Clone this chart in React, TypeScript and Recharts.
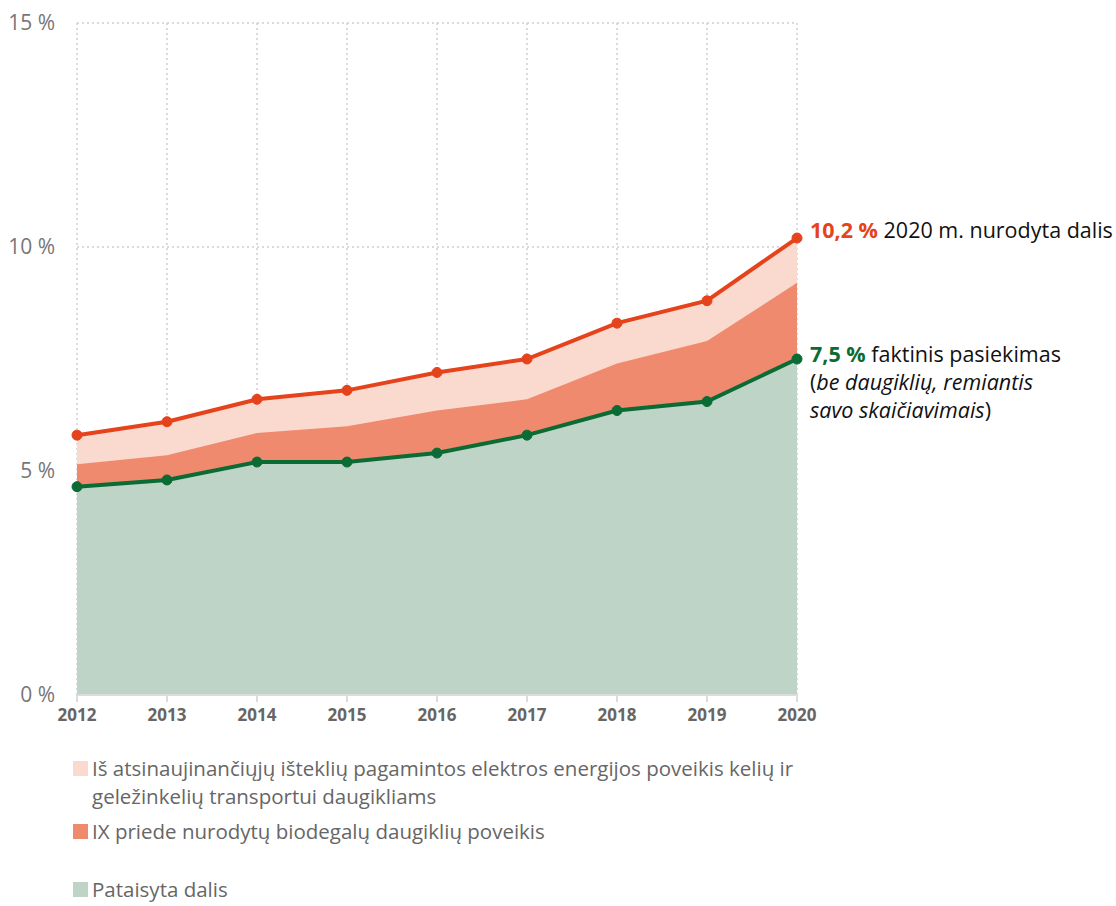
import React from 'react';
import {
  ComposedChart,
  Area,
  Line,
  XAxis,
  YAxis,
  CartesianGrid,
  LabelList,
} from 'recharts';

const years = ['2012', '2013', '2014', '2015', '2016', '2017', '2018', '2019', '2020'];
// top line: share stated for 2020 (with all multipliers)
const statedShare = [5.8, 6.1, 6.6, 6.8, 7.2, 7.5, 8.3, 8.8, 10.2];
// corrected share + annex IX biofuel multipliers
const withBiofuels = [5.15, 5.35, 5.85, 6.0, 6.35, 6.6, 7.4, 7.9, 9.2];
// corrected share (actual, no multipliers)
const actualShare = [4.65, 4.8, 5.2, 5.2, 5.4, 5.8, 6.35, 6.55, 7.5];
const yTicks = [0, 5, 10, 15];

const FONT = '"Open Sans", Lato, sans-serif';
const RED = '#e5431b';
const GREEN = '#0b6b34';
const PINK = '#fad9ce';
const ORANGE = '#f08a6e';
const SAGE = '#bed4c6';

const legendItems = [
  {
    color: PINK,
    lines: [
      'Iš atsinaujinančiųjų išteklių pagamintos elektros energijos poveikis kelių ir',
      'geležinkelių transportui daugikliams',
    ],
    top: 754,
  },
  { color: ORANGE, lines: ['IX priede nurodytų biodegalų daugiklių poveikis'], top: 817 },
  { color: SAGE, lines: ['Pataisyta dalis'], top: 875 },
];

const data = years.map((year, i) => ({
  year,
  stated: statedShare[i],
  bio: withBiofuels[i],
  actual: actualShare[i],
}));

const last = years.length - 1;

function StatedLabel(props: any) {
  const { x, y, index } = props;
  if (index !== last) return null;
  return (
    <text x={x + 13} y={y} dy={-6} fontFamily={FONT} fontSize={21.5} fill="#111" dominantBaseline="middle">
      <tspan fill={RED} fontWeight={700}>10,2 %</tspan>
      <tspan> 2020 m. nurodyta dalis</tspan>
    </text>
  );
}

function ActualLabel(props: any) {
  const { x, y, index } = props;
  if (index !== last) return null;
  const tx = x + 13;
  return (
    <text x={tx} y={y} dy={-3} fontFamily={FONT} fontSize={21.5} fill="#111" dominantBaseline="middle">
      <tspan fill={GREEN} fontWeight={700}>7,5 %</tspan>
      <tspan> faktinis pasiekimas</tspan>
      <tspan x={tx} dy={28}>(</tspan>
      <tspan fontStyle="italic">be daugiklių, remiantis</tspan>
      <tspan x={tx} dy={28} fontStyle="italic">savo skaičiavimais</tspan>
      <tspan>)</tspan>
    </text>
  );
}

export default function App() {
  return (
    <div style={{ position: 'absolute', left: 0, top: 0, width: 1116, height: 906, background: '#fff', overflow: 'hidden' }}>
      <ComposedChart
        width={1116}
        height={740}
        data={data}
        margin={{ top: 23, right: 319, bottom: 0, left: 0 }}
      >
        <CartesianGrid stroke="#cfcfcf" strokeDasharray="2 3" strokeWidth={1.5} />
        <XAxis
          dataKey="year"
          scale="point"
          padding={{ left: 0, right: 0 }}
          height={45}
          axisLine={{ stroke: '#dcdcdc', strokeWidth: 2 }}
          tickLine={{ stroke: '#dcdcdc', strokeWidth: 2 }}
          tickSize={7}
          tickMargin={7}
          tick={{ fontFamily: FONT, fontSize: 17, fontWeight: 700, fill: '#666' }}
        />
        <YAxis
          domain={[0, 15]}
          ticks={yTicks}
          width={77}
          axisLine={false}
          tickLine={false}
          tickMargin={16}
          tickFormatter={(v) => `${v} %`}
          tick={{ fontFamily: FONT, fontSize: 21, fill: '#777' }}
        />
        <Area dataKey="stated" type="linear" stroke="none" fill={PINK} fillOpacity={1} isAnimationActive={false} />
        <Area dataKey="bio" type="linear" stroke="none" fill={ORANGE} fillOpacity={1} isAnimationActive={false} />
        <Area dataKey="actual" type="linear" stroke="none" fill={SAGE} fillOpacity={1} isAnimationActive={false} />
        <Line
          dataKey="stated"
          type="linear"
          stroke={RED}
          strokeWidth={4}
          dot={{ r: 5, fill: RED, stroke: RED, strokeWidth: 1 }}
          isAnimationActive={false}
        >
          <LabelList dataKey="stated" content={StatedLabel} />
        </Line>
        <Line
          dataKey="actual"
          type="linear"
          stroke={GREEN}
          strokeWidth={4}
          dot={{ r: 5, fill: GREEN, stroke: GREEN, strokeWidth: 1 }}
          isAnimationActive={false}
        >
          <LabelList dataKey="actual" content={ActualLabel} />
        </Line>
      </ComposedChart>
      {legendItems.map((item) => (
        <div
          key={item.color}
          style={{ position: 'absolute', left: 73, top: item.top, fontFamily: FONT, fontSize: 20.5, color: '#666', lineHeight: '28px' }}
        >
          <span style={{ position: 'absolute', left: 0, top: 7, width: 15, height: 15, background: item.color }} />
          {item.lines.map((l) => (
            <div key={l} style={{ paddingLeft: 19, whiteSpace: 'nowrap' }}>{l}</div>
          ))}
        </div>
      ))}
    </div>
  );
}
